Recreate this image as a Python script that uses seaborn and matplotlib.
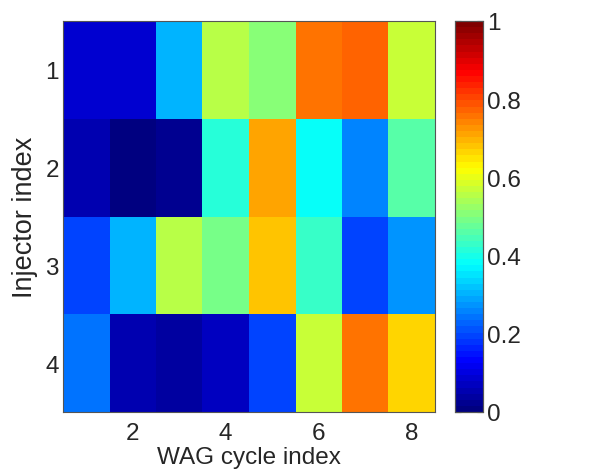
import numpy as np
import seaborn as sns
import matplotlib.pyplot as plt
from matplotlib.colors import LinearSegmentedColormap

# Normalised values (rows = injectors, cols = WAG cycles)
injectors = [1, 2, 3, 4]
cycles = [1, 2, 3, 4, 5, 6, 7, 8]
inj1 = [0.08, 0.08, 0.30, 0.55, 0.51, 0.75, 0.78, 0.575]
inj2 = [0.06, 0.00, 0.02, 0.41, 0.705, 0.375, 0.25, 0.46]
inj3 = [0.20, 0.31, 0.56, 0.49, 0.675, 0.425, 0.19, 0.27]
inj4 = [0.24, 0.05, 0.04, 0.075, 0.19, 0.575, 0.75, 0.665]
xtick_labels = ["2", "4", "6", "8"]
cbar_ticks = [0, 0.2, 0.4, 0.6, 0.8, 1]
cbar_labels = ["0", "0.2", "0.4", "0.6", "0.8", "1"]

data = np.array([inj1, inj2, inj3, inj4])

# MATLAB-style jet (64 levels)
matlab_jet = LinearSegmentedColormap.from_list(
    "matlab_jet",
    [(0, (0, 0, 0.5)), (0.125, (0, 0, 1)), (0.375, (0, 1, 1)),
     (0.625, (1, 1, 0)), (0.875, (1, 0, 0)), (1, (0.5, 0, 0))], N=64)

sns.set_style("white")
plt.rcParams["font.family"] = ["Liberation Sans", "DejaVu Sans"]
text_col = "#262626"

fig = plt.figure(figsize=(6.13, 4.77), dpi=100)
ax = fig.add_axes([63 / 613, 1 - 413 / 477, 372 / 613, 391 / 477])
cax = fig.add_axes([455 / 613, 1 - 413 / 477, 28 / 613, 391 / 477])

sns.heatmap(data, cmap=matlab_jet, vmin=0, vmax=1, ax=ax, cbar_ax=cax,
            xticklabels=False, yticklabels=False,
            cbar_kws={"ticks": cbar_ticks})

# tick positions at cell centres for cycles 2,4,6,8 and injectors 1..4
ax.set_xticks([c - 0.5 for c in cycles if c % 2 == 0])
ax.set_xticklabels(xtick_labels)
ax.set_yticks([i - 0.5 for i in injectors])
ax.set_yticklabels([str(i) for i in injectors], rotation=0)
ax.tick_params(direction="in", length=4, width=0.8, labelsize=17.5,
               colors="#333333", labelcolor=text_col,
               top=True, right=True, pad=7)
ax.tick_params(axis="y", pad=3)
for s in ax.spines.values():
    s.set_visible(True)
    s.set_color("#555555")
    s.set_linewidth(0.8)
ax.set_xlabel("WAG cycle index", fontsize=17.5, color=text_col, labelpad=2)
ax.set_ylabel("Injector index", fontsize=19.5, color=text_col, labelpad=5)

cax.tick_params(direction="in", length=4, width=0.8, labelsize=17.5,
                colors="#333333", labelcolor=text_col, left=True, right=True, pad=3)
cax.set_yticklabels(cbar_labels)
for s in cax.spines.values():
    s.set_visible(True)
    s.set_color("#555555")
    s.set_linewidth(0.8)

fig.savefig("out.png", dpi=100)
